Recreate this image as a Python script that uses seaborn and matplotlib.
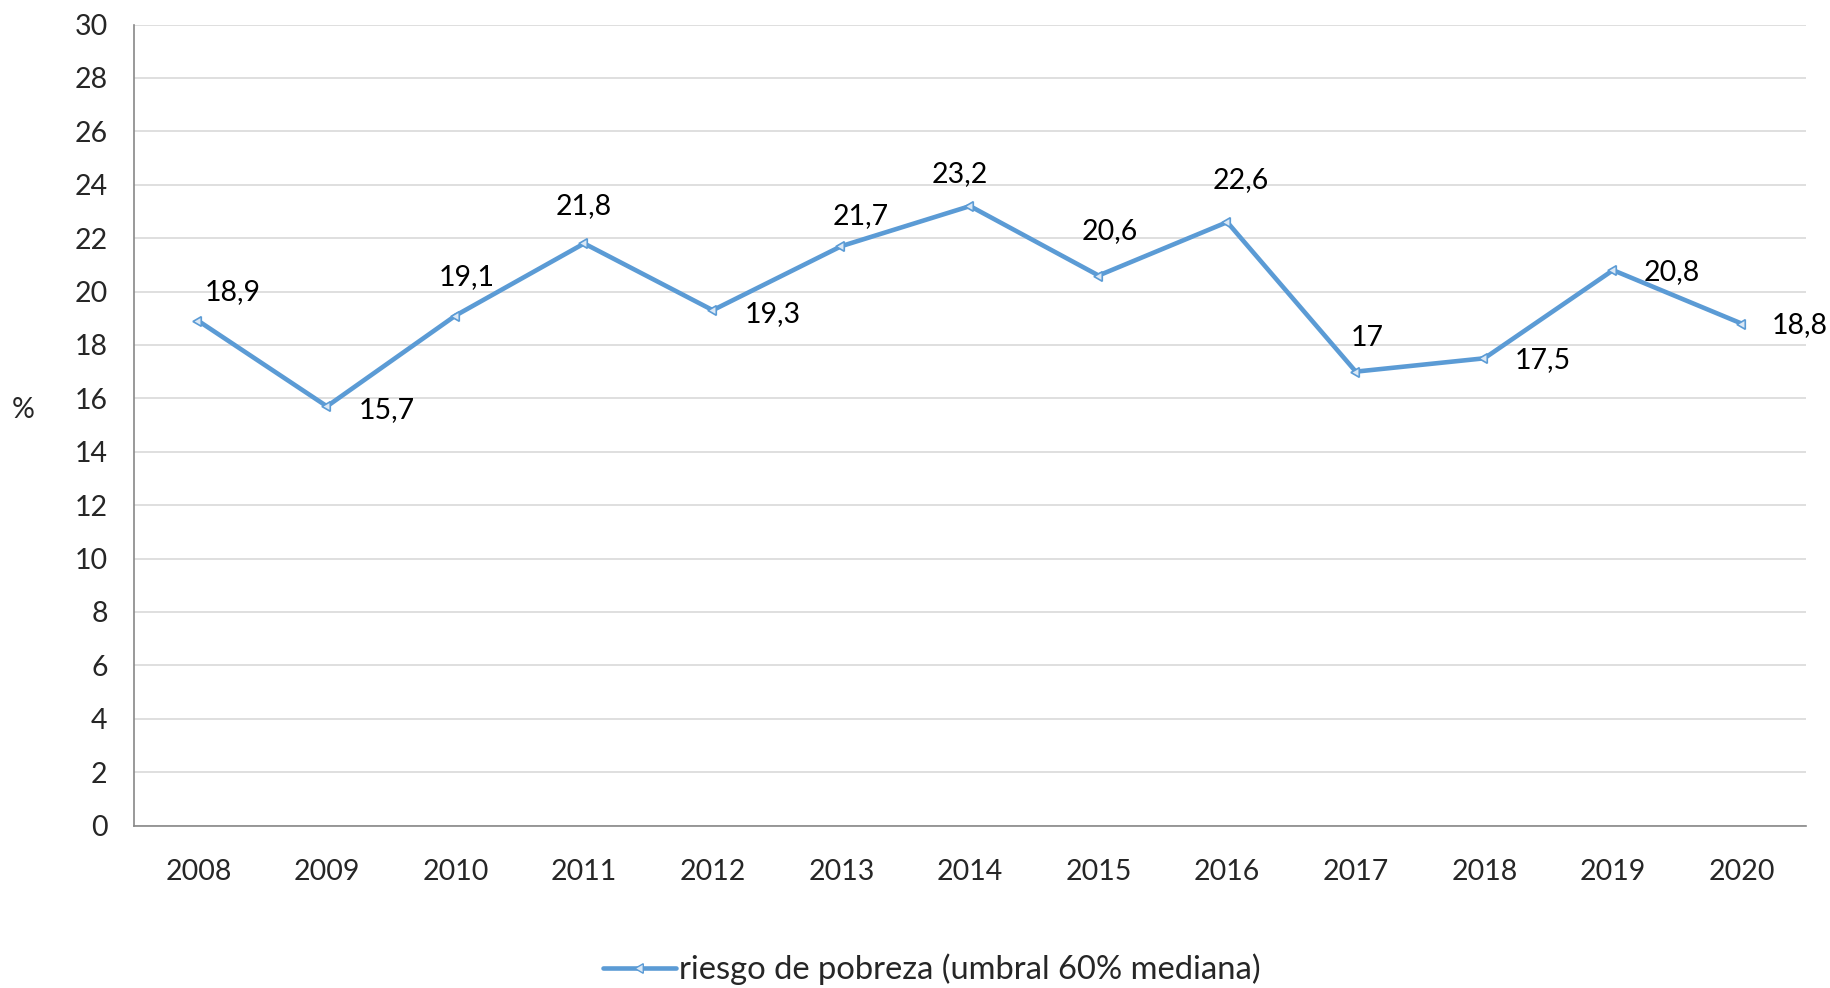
import numpy as np
import pandas as pd
import seaborn as sns
import matplotlib.pyplot as plt
from matplotlib.lines import Line2D

years = ['2008', '2009', '2010', '2011', '2012', '2013', '2014',
         '2015', '2016', '2017', '2018', '2019', '2020']
riesgo = [18.9, 15.7, 19.1, 21.8, 19.3, 21.7, 23.2, 20.6, 22.6, 17.0, 17.5, 20.8, 18.8]
series_name = 'riesgo de pobreza (umbral 60% mediana)'

# label offsets in points (dx, dy)
label_offsets = [(25, 21), (43, -3), (8, 28), (0, 27), (43, -3), (14, 22), (-7, 23),
                 (8, 32), (10, 30), (8, 24), (42, -1), (42, -1), (42, -1)]

df = pd.DataFrame({'pos': np.arange(len(years)), 'valor': riesgo})

sns.set_style('white')
plt.rcParams['font.family'] = ['Lato', 'DejaVu Sans']

color = '#5B9BD5'
fs = 20.5
fig = plt.figure(figsize=(18.31, 9.88), dpi=100)
ax = fig.add_axes([0.0732, 0.1644, 0.9131, 0.8108])

sns.lineplot(data=df, x='pos', y='valor', ax=ax, color=color, linewidth=3.3,
             marker=(3, 0, 90), markersize=8, markerfacecolor='#dbe8f5',
             markeredgecolor=color, markeredgewidth=1.2)

for i, v in enumerate(riesgo):
    txt = f'{v:g}'.replace('.', ',')
    dx, dy = label_offsets[i]
    ax.annotate(txt, (i, v), xytext=(dx, dy), textcoords='offset points',
                ha='center', va='center', fontsize=fs, color='black')

ax.set_xlim(-0.5, len(years) - 0.5)
ax.set_ylim(0, 30)
ax.set_yticks(np.arange(0, 31, 2))
ax.set_yticklabels([str(t) for t in range(0, 31, 2)], fontsize=fs)
ax.set_xticks(np.arange(len(years)))
ax.set_xticklabels(years, fontsize=fs)
ax.set_xticks(np.arange(-0.5, len(years), 1), minor=True)
ax.tick_params(axis='x', which='major', length=0, pad=24)
ax.tick_params(axis='x', which='minor', length=9, color='#888888', width=1.2)
ax.tick_params(axis='y', length=9, color='#888888', width=1.2, pad=10)

ax.grid(axis='y', color='#d9d9d9', linewidth=1.2)
ax.set_axisbelow(True)
for s in ['top', 'right']:
    ax.spines[s].set_visible(False)
for s in ['left', 'bottom']:
    ax.spines[s].set_color('#888888')
    ax.spines[s].set_linewidth(1.2)

ax.set_xlabel('')
ax.set_ylabel('%', fontsize=fs, rotation=0, labelpad=0)
ax.yaxis.set_label_coords(-0.066, 0.502)

handle = Line2D([0], [0], color=color, linewidth=3.3, marker=(3, 0, 90), markersize=8,
                markerfacecolor='#dbe8f5', markeredgecolor=color)
fig.legend([handle], [series_name], loc='center', bbox_to_anchor=(0.509, 0.019),
           frameon=False, fontsize=23.6, handlelength=2.2, handletextpad=0.1)

fig.savefig('out.png', dpi=100)
